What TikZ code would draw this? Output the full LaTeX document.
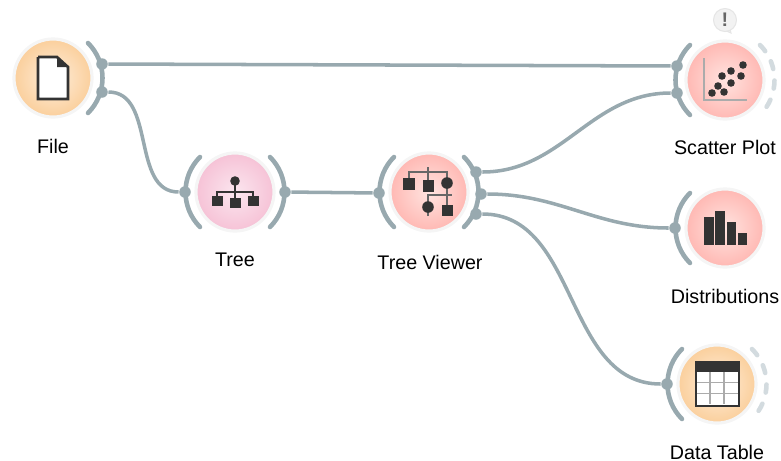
\documentclass[tikz,border=0pt]{standalone}
\usepackage{fontspec}
\setmainfont{Liberation Sans}
\usepackage{tikz,pgffor}

\definecolor{linkgray}{HTML}{98A9AF}
\definecolor{dashgray}{HTML}{D3DBDF}
\definecolor{icondark}{HTML}{333333}
\definecolor{axisgray}{HTML}{ABABAB}
\definecolor{fileinner}{HTML}{FDEEDC}
\definecolor{fileouter}{HTML}{FBCF9C}
\definecolor{treeinner}{HTML}{FBE6EF}
\definecolor{treeouter}{HTML}{F6C2D6}
\definecolor{plotinner}{HTML}{FFE4E0}
\definecolor{plotouter}{HTML}{FFB8B3}

\tikzset{
  widget/.style 2 args={circle, inner sep=0pt, minimum size=0.78cm, draw=black!4, line width=0.9pt, inner color=#1, outer color=#2},
  port/.style={circle, fill=linkgray, inner sep=0pt, minimum size=0.115cm},
  link/.style={draw=linkgray, line width=1pt},
  channel/.style={draw=linkgray, line width=1.3pt, line cap=round},
  freechannel/.style={draw=dashgray, line width=1.3pt, line cap=round, dash pattern=on 2.3pt off 3.3pt},
  caption/.style={font=\fontsize{5.6}{7}\selectfont, text=black}
}

\begin{document}
\begin{tikzpicture}[x=0.01cm, y=-0.01cm]

\useasboundingbox (0,0) rectangle (781,460);

%%%%%%%%%%%%%%%%%%%%%%%%%%%%%%% widgets
\node[widget={fileinner}{fileouter}] (file) at (53,78) {};
\node[widget={treeinner}{treeouter}] (tree) at (235,192) {};
\node[widget={plotinner}{plotouter}] (viewer) at (429,192) {};
\node[widget={plotinner}{plotouter}] (scatter) at (725,80) {};
\node[widget={plotinner}{plotouter}] (distr) at (725,228) {};
\node[widget={fileinner}{fileouter}] (table) at (717,384) {};

%%%%%%%%%%%%%%%%%%%%%%%%%%%%%%% channel arcs
\draw[channel] (53,78) ++(-45:49.5) arc (-45:45:49.5);
\draw[channel] (235,192) ++(135:49.5) arc (135:225:49.5);
\draw[channel] (235,192) ++(-45:49.5) arc (-45:45:49.5);
\draw[channel] (429,192) ++(135:49.5) arc (135:225:49.5);
\draw[channel] (429,192) ++(-45:49.5) arc (-45:45:49.5);
\draw[channel] (725,80) ++(135:49.5) arc (135:225:49.5);
\draw[channel] (725,228) ++(135:49.5) arc (135:225:49.5);
\draw[channel] (717,384) ++(135:49.5) arc (135:225:49.5);

\draw[freechannel] (725,80) ++(-45:49.5) arc (-45:45:49.5);
\draw[freechannel] (717,384) ++(-45:49.5) arc (-45:45:49.5);

%%%%%%%%%%%%%%%%%%%%%%%%%%%%%%% ports
\node[port] (fileup) at (102,64) {};
\node[port] (filedown) at (102,92) {};
\node[port] (treein) at (185,192) {};
\node[port] (treeout) at (285,192) {};
\node[port] (viewerin) at (379,193) {};
\node[port] (viewerup) at (476,172) {};
\node[port] (viewermid) at (481,194) {};
\node[port] (viewerdown) at (476,214) {};
\node[port] (scatterup) at (677,66) {};
\node[port] (scatterdown) at (677,93) {};
\node[port] (distrin) at (675,228) {};
\node[port] (tablein) at (667,384) {};

%%%%%%%%%%%%%%%%%%%%%%%%%%%%%%% links
\draw[link] (fileup) -- (scatterup);
\draw[link] (filedown) to[out=0, in=180] (treein);
\draw[link] (treeout) -- (viewerin);
\draw[link] (viewerup) to[out=0, in=180] (scatterdown);
\draw[link] (viewermid) to[out=0, in=180] (distrin);
\draw[link] (viewerdown) to[out=0, in=180] (tablein);

%%%%%%%%%%%%%%%%%%%%%%%%%%%%%%% File icon
\draw[fill=white, draw=icondark, line width=0.75pt, line join=miter]
(38,57) -- (57,57) -- (68,67) -- (68,99) -- (38,99) -- (38,57);
\fill[icondark] (57,57) -- (68,67) -- (57,67) -- (57,57);

%%%%%%%%%%%%%%%%%%%%%%%%%%%%%%% Tree icon
\draw[icondark, line width=0.6pt] (235,181) -- (235,198);
\draw[icondark, line width=0.6pt] (217,197) -- (217,192) -- (253,192) -- (253,197);
\fill[icondark] (235,181) circle (4.8);
\fill[icondark] (212,196) rectangle (222.5,206);
\fill[icondark] (230,198) rectangle (240.5,208);
\fill[icondark] (248,196) rectangle (258.5,206);

%%%%%%%%%%%%%%%%%%%%%%%%%%%%%%% Tree Viewer icon
\draw[axisgray!60!black, line width=0.7pt] (409,178) -- (409,172) -- (447,172) -- (447,194);
\draw[axisgray!60!black, line width=0.7pt] (428,167) -- (428,180);
\draw[axisgray!60!black, line width=0.7pt] (428,216) -- (428,195) -- (452,195);
\draw[axisgray!60!black, line width=0.7pt] (447,195) -- (447,205);
\fill[icondark] (403,177.5) rectangle (415,189.5);
\fill[icondark] (422.5,180) rectangle (433.5,191.5);
\fill[icondark] (447,183) circle (5.8);
\fill[icondark] (428,207) circle (5.8);
\fill[icondark] (441.5,205) rectangle (452.5,216);

%%%%%%%%%%%%%%%%%%%%%%%%%%%%%%% Scatter Plot icon
\draw[axisgray, line width=0.75pt] (704,58) -- (704,100) -- (747,100);
\foreach \px/\py in {712/93, 724/92, 718/86, 731/83, 722/76, 731/71, 741/76, 743/65}
  \fill[icondark] (\px,\py) circle (3.8);

\draw[fill=black!5, draw=black!10, line width=0.3pt] (730,29) -- (731,33) -- (724,30) -- (730,29);
\node[circle, fill=black!5, draw=black!10, line width=0.3pt, inner sep=0pt, minimum size=0.23cm,
font=\bfseries\fontsize{5.6}{7}\selectfont, text=black!60] (warning) at (725,20) {!};

%%%%%%%%%%%%%%%%%%%%%%%%%%%%%%% Distributions icon
\fill[icondark] (704,217) rectangle (713.5,244.5);
\fill[icondark] (715,211) rectangle (724.5,244.5);
\fill[icondark] (726.5,222) rectangle (735.5,244.5);
\fill[icondark] (737.5,233) rectangle (747,244.5);

%%%%%%%%%%%%%%%%%%%%%%%%%%%%%%% Data Table icon
\fill[white] (696,362) rectangle (739,406);
\draw[axisgray, line width=0.4pt] (710,372) -- (710,404);
\draw[axisgray, line width=0.4pt] (724,372) -- (724,404);
\draw[axisgray, line width=0.4pt] (697,382.5) -- (738,382.5);
\draw[axisgray, line width=0.4pt] (697,393.5) -- (738,393.5);
\draw[icondark, line width=0.6pt] (696,362) rectangle (739,406);
\fill[icondark] (696,362) rectangle (739,372);

%%%%%%%%%%%%%%%%%%%%%%%%%%%%%%% captions
\node[caption] (filetext) at (53,146) {File};
\node[caption] (treetext) at (235,260) {Tree};
\node[caption] (viewertext) at (430,262) {Tree Viewer};
\node[caption] (scattertext) at (725,147) {Scatter Plot};
\node[caption] (distrtext) at (725,296) {Distributions};
\node[caption] (tabletext) at (717,452) {Data Table};

\end{tikzpicture}
\end{document}
